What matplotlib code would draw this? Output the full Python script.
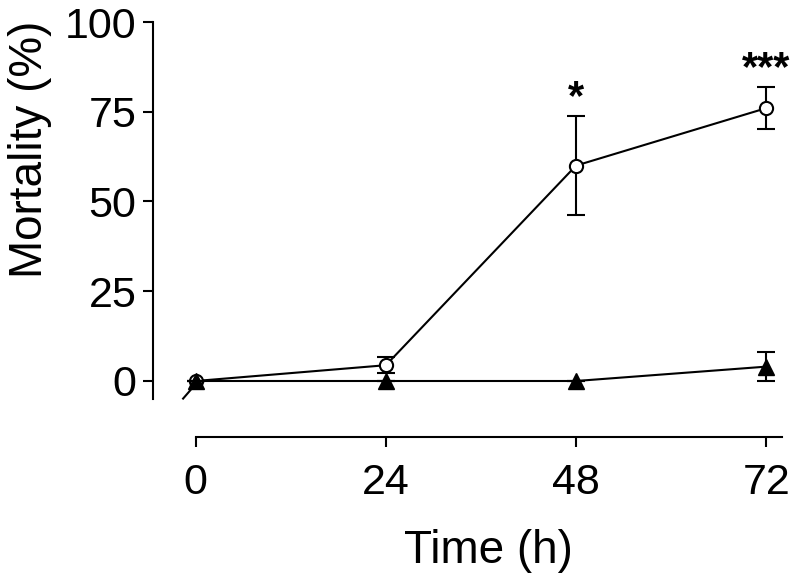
import matplotlib
matplotlib.use("Agg")
import matplotlib.pyplot as plt

# ===== data =====
time_h = [0, 24, 48, 72]
circle_mean = [0, 4.4, 60, 76]
circle_err = [0, 2.3, 13.8, 5.9]
triangle_mean = [0, 0, 0, 4]
triangle_err = [0, 0, 0, 4]
star_time = [48, 72]
star_text = ["*", "***"]
x_ticks = [0, 24, 48, 72]
y_ticks = [0, 25, 50, 75, 100]
# ================

plt.rcParams["font.family"] = ["Liberation Sans", "DejaVu Sans"]

fig = plt.figure(figsize=(8, 5.83), dpi=100)
ax = fig.add_axes([153 / 800, (583 - 437) / 583, 629 / 800, (437 - 22) / 583])

lw = 1.5
ax.errorbar(time_h, circle_mean, yerr=circle_err, fmt="-o", color="black",
            mfc="white", mec="black", ms=9.5, mew=1.5, lw=lw,
            capsize=6.5, capthick=1.5, elinewidth=1.5, zorder=3)
ax.errorbar(time_h, triangle_mean, yerr=triangle_err, fmt="-^", color="black",
            mfc="black", ms=11, lw=lw, capsize=6.5, capthick=1.5,
            elinewidth=1.5, zorder=4)

# significance stars just above the error bars
for t, s in zip(star_time, star_text):
    i = time_h.index(t)
    ax.annotate(s, (t, circle_mean[i] + circle_err[i]), xytext=(0, 5),
                textcoords="offset points", ha="center", va="baseline",
                fontsize=30, fontweight="bold", annotation_clip=False)

# small break mark at the origin
ax.plot([-1.6, -0.5], [-4.9, -2.1], color="black", lw=lw, clip_on=False)

ax.set_xlim(-5.4, 74)
ax.set_ylim(-15.6, 100)
ax.set_xticks(x_ticks)
ax.set_yticks(y_ticks)

for side in ("top", "right"):
    ax.spines[side].set_visible(False)
ax.spines["left"].set_bounds(-4.9, 100)
ax.spines["bottom"].set_bounds(0, 74)
ax.spines["left"].set_linewidth(lw)
ax.spines["bottom"].set_linewidth(lw)

ax.tick_params(axis="both", direction="out", length=7, width=lw,
               labelsize=31, pad=5)
ax.tick_params(axis="x", pad=11.5)
ax.set_xlabel("Time (h)", fontsize=33, labelpad=19)
ax.xaxis.label.set_x(0.534)
ax.set_ylabel("Mortality (%)", fontsize=33)
ax.yaxis.set_label_coords(-0.161, 0.694)

fig.savefig("out.png", dpi=100)
